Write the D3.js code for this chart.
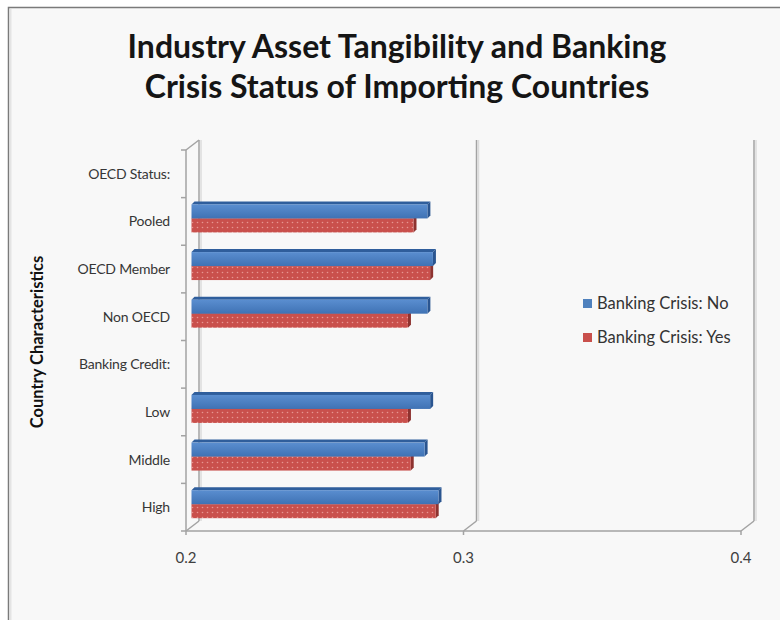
<!DOCTYPE html>
<html><head><meta charset="utf-8">
<script src="https://cdn.jsdelivr.net/npm/d3@7"></script>
<style>body{margin:0;background:#fff;}svg{display:block;}</style>
</head><body>
<script>
const categories = ["OECD Status:", "Pooled", "OECD Member", "Non OECD", "Banking Credit:", "Low", "Middle", "High"];
const crisisNo  = [null, 0.285, 0.287, 0.285, null, 0.286, 0.284, 0.289];
const crisisYes = [null, 0.280, 0.286, 0.278, null, 0.278, 0.279, 0.288];
const seriesNames = ["Banking Crisis: No", "Banking Crisis: Yes"];
const xTicks = [0.2, 0.3, 0.4];
const titleLines = ["Industry Asset Tangibility and Banking", "Crisis Status of Importing Countries"];
const yTitle = "Country Characteristics";

const W = 780, H = 620;
const FONT = "Lato, 'Open Sans', sans-serif";
const DX = 13, DY = -10;

const svg = d3.select("body").append("svg").attr("width", W).attr("height", H);
const defs = svg.append("defs");

const gb = defs.append("linearGradient").attr("id","gBlue").attr("x1",0).attr("y1",0).attr("x2",0).attr("y2",1);
gb.append("stop").attr("offset","0%").attr("stop-color","#5a8ed0");
gb.append("stop").attr("offset","100%").attr("stop-color","#3f72b4");
const pr = defs.append("pattern").attr("id","pRed").attr("patternUnits","userSpaceOnUse").attr("width",5).attr("height",5);
pr.append("rect").attr("width",5).attr("height",5).attr("fill","#c9504c");
pr.append("circle").attr("cx",2.5).attr("cy",2.5).attr("r",0.8).attr("fill","#e89591");

svg.append("rect").attr("x",0).attr("y",0).attr("width",W).attr("height",H).attr("fill","#ffffff");
svg.append("rect").attr("x",8.5).attr("y",7.5).attr("width",W).attr("height",H).attr("fill","#f8f8f8")
   .attr("stroke","#7a7a7a").attr("stroke-width",1.5);
svg.append("line").attr("x1",10.5).attr("x2",10.5).attr("y1",9).attr("y2",H).attr("stroke","#e4e4e4").attr("stroke-width",2);

const x = d3.scaleLinear().domain([0.2, 0.4]).range([186, 741]);
const y = d3.scaleBand().domain(categories).range([150, 531]).paddingInner(0).paddingOuter(0);
const yTop = y.range()[0], yBot = y.range()[1];

const grid = svg.append("g");
xTicks.forEach(t => {
  const bx = x(t) + DX;
  grid.append("line").attr("x1",bx+2).attr("x2",bx+2).attr("y1",yTop+DY).attr("y2",yBot+DY)
      .attr("stroke","#dcdcdc").attr("stroke-width",1.5);
  grid.append("line").attr("x1",bx).attr("x2",bx).attr("y1",yTop+DY).attr("y2",yBot+DY)
      .attr("stroke","#a3a3a3").attr("stroke-width",1.5);
  grid.append("line").attr("x1",x(t)).attr("x2",bx).attr("y1",yBot).attr("y2",yBot+DY)
      .attr("stroke","#a3a3a3").attr("stroke-width",1.5);
  grid.append("line").attr("x1",x(t)).attr("x2",x(t)).attr("y1",yBot).attr("y2",yBot+4)
      .attr("stroke","#a3a3a3").attr("stroke-width",1.5);
});
grid.append("line").attr("x1",x(0.2)).attr("x2",x(0.2)).attr("y1",yTop).attr("y2",yBot)
    .attr("stroke","#a3a3a3").attr("stroke-width",1.5);
grid.append("line").attr("x1",x(0.2)).attr("x2",x(0.2)+DX).attr("y1",yTop).attr("y2",yTop+DY)
    .attr("stroke","#a3a3a3").attr("stroke-width",1.5);
grid.append("line").attr("x1",x(0.2)).attr("x2",x(0.4)).attr("y1",yBot).attr("y2",yBot)
    .attr("stroke","#a3a3a3").attr("stroke-width",1.5);
const bounds = categories.map(c => y(c)).concat([yBot]);
bounds.forEach(b => {
  grid.append("line").attr("x1",x(0.2)-5).attr("x2",x(0.2)).attr("y1",b).attr("y2",b)
      .attr("stroke","#a3a3a3").attr("stroke-width",1.5);
});

const barsG = svg.append("g");
const half = 14;
const d = 3;
function drawBar(v, yT, fillFront, topCol, sideCol) {
  const x0 = x(0.2) + DX/2 - 1, x1 = x(v) + DX/2 - 1;
  const yB = yT + half;
  barsG.append("path").attr("d", `M${x0},${yT} L${x0+d},${yT-d} L${x1+d},${yT-d} L${x1},${yT} Z`).attr("fill", topCol);
  barsG.append("path").attr("d", `M${x1},${yT} L${x1+d},${yT-d} L${x1+d},${yB-d} L${x1},${yB} Z`).attr("fill", sideCol);
  barsG.append("rect").attr("x", x0).attr("y", yT).attr("width", x1-x0).attr("height", half).attr("fill", fillFront);
}
categories.forEach((c, i) => {
  const center = y(c) + y.bandwidth()/2 - 3;
  if (crisisYes[i] != null) drawBar(crisisYes[i], center, "url(#pRed)", "#a8403d", "#8e3330");
  if (crisisNo[i] != null) drawBar(crisisNo[i], center - half, "url(#gBlue)", "#2f5e9c", "#2a5590");
});

svg.append("g").selectAll("text").data(categories).join("text")
  .attr("x", 170).attr("y", c => y(c) + y.bandwidth()/2 + 5)
  .attr("text-anchor","end").attr("font-family",FONT).attr("font-size",14).attr("fill","#363636")
  .attr("letter-spacing", -0.2)
  .text(c => c);

svg.append("g").selectAll("text").data(xTicks).join("text")
  .attr("x", t => x(t)).attr("y", 563).attr("text-anchor","middle")
  .attr("font-family",FONT).attr("font-size",15).attr("fill","#404040")
  .text(t => d3.format(".1f")(t));

svg.append("text").attr("transform","translate(43,342) rotate(-90)").attr("text-anchor","middle")
  .attr("font-family",FONT).attr("font-weight","bold").attr("font-size",16.5).attr("fill","#111")
  .text(yTitle);

const tg = svg.append("g");
titleLines.forEach((t, i) => {
  tg.append("text").attr("x", 397).attr("y", 58 + i*39.5).attr("text-anchor","middle")
    .attr("font-family",FONT).attr("font-weight","bold").attr("font-size",32).attr("fill","#151515")
    .text(t);
});

const colors = ["#4f81bd", "#c9504c"];
const lg = svg.append("g");
seriesNames.forEach((s, i) => {
  lg.append("rect").attr("x",583).attr("y",299 + i*34).attr("width",9).attr("height",9).attr("fill",colors[i]);
  lg.append("text").attr("x",597).attr("y",309 + i*34).attr("font-family",FONT).attr("font-size",16.5).attr("fill","#333").text(s);
});
</script>
</body></html>
